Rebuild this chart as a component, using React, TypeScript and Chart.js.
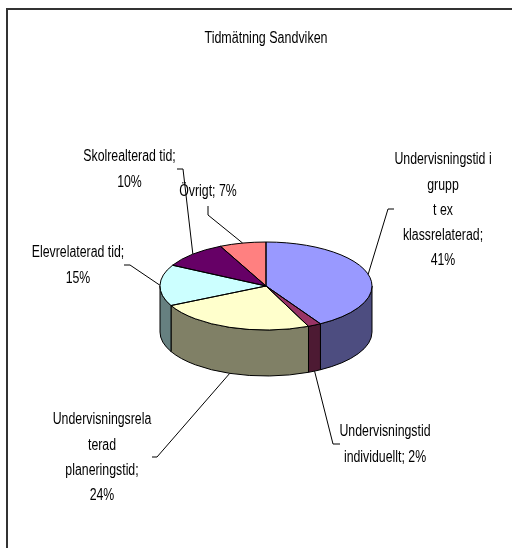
import React, { useEffect, useRef } from "react";
import { Chart, registerables } from "chart.js";

Chart.register(...registerables);

const titleText = "Tidmätning Sandviken";
const categories = [
  "Undervisningstid i grupp t ex klassrelaterad",
  "Undervisningstid individuellt",
  "Undervisningsrelaterad planeringstid",
  "Elevrelaterad tid",
  "Skolrealterad tid",
  "Övrigt",
];
const percentages = [41, 2, 24, 15, 10, 7];
const topColors = ["#9999FF", "#993366", "#FFFFCC", "#CCFFFF", "#660066", "#FF8080"];
const sideColors = ["#4D4D80", "#4D1A33", "#808066", "#668080", "#330033", "#804040"];
const labelLines = [
  ["Undervisningstid i", "grupp", "t ex", "klassrelaterad;", "41%"],
  ["Undervisningstid", "individuellt; 2%"],
  ["Undervisningsrela", "terad", "planeringstid;", "24%"],
  ["Elevrelaterad tid;", "15%"],
  ["Skolrealterad tid;", "10%"],
  ["Övrigt; 7%"],
];

const FONT_FAMILY = "'Liberation Sans', sans-serif";
const FONT = `16px ${FONT_FAMILY}`;
const SQUEEZE = 0.77;
const TITLE_SQUEEZE = 0.78;
const TILT = 44 / 106;
const DEPTH = 46;
const LINE_HEIGHT = 25.2;
const labelAnchors = [
  [443, 160], [385, 432], [102, 420], [78, 253], [129.5, 157], [208, 192],
];
const leaderElbows = [
  [[388, 209], [394, 209]],
  [[333, 444], [340, 444]],
  [[157, 457], [152, 457]],
  [[130, 265], [124, 265]],
  [[183, 169], [177, 169]],
  [[208, 215], [208, 206]],
];

const pie3d = {
  id: "pie3d",
  afterLayout(chart: any) {
    const block = chart.titleBlock;
    if (!block || block.__squeezed) return;
    const original = block.draw.bind(block);
    block.__squeezed = true;
    block.draw = function () {
      const c = chart.ctx;
      const cx = (chart.chartArea.left + chart.chartArea.right) / 2;
      c.save();
      c.translate(cx, 0);
      c.scale(TITLE_SQUEEZE, 1);
      c.translate(-cx, 0);
      original();
      c.restore();
    };
  },
  beforeDraw(chart: any) {
    const { ctx, width, height } = chart;
    ctx.save();
    ctx.fillStyle = "#FFFFFF";
    ctx.fillRect(0, 0, width, height);
    ctx.strokeStyle = "#333333";
    ctx.lineWidth = 2;
    ctx.beginPath();
    ctx.moveTo(7, height);
    ctx.lineTo(7, 9);
    ctx.lineTo(width, 9);
    ctx.stroke();
    ctx.restore();
  },
  beforeDatasetDraw(chart: any) {
    const { ctx } = chart;
    const arcs = chart.getDatasetMeta(0).data;
    ctx.save();
    ctx.lineWidth = 1;
    ctx.strokeStyle = "#000000";
    arcs.forEach((arc: any, i: number) => {
      const { x, y, startAngle, endAngle, outerRadius } = arc.getProps(
        ["x", "y", "startAngle", "endAngle", "outerRadius"], true,
      );
      const a = Math.max(startAngle, 0);
      const b = Math.min(endAngle, Math.PI);
      if (b <= a) return;
      const ry = outerRadius * TILT;
      ctx.beginPath();
      ctx.ellipse(x, y, outerRadius, ry, 0, a, b);
      ctx.ellipse(x, y + DEPTH, outerRadius, ry, 0, b, a, true);
      ctx.closePath();
      ctx.fillStyle = sideColors[i];
      ctx.fill();
      ctx.stroke();
    });
    ctx.restore();
    const first = arcs[0].getProps(["x", "y"], true);
    ctx.save();
    ctx.translate(first.x, first.y);
    ctx.scale(1, TILT);
    ctx.translate(-first.x, -first.y);
  },
  afterDatasetDraw(chart: any) {
    const { ctx } = chart;
    ctx.restore();
    const arcs = chart.getDatasetMeta(0).data;
    ctx.save();
    ctx.lineWidth = 1;
    ctx.strokeStyle = "#000000";
    arcs.forEach((arc: any, i: number) => {
      const { x, y, startAngle, endAngle, outerRadius } = arc.getProps(
        ["x", "y", "startAngle", "endAngle", "outerRadius"], true,
      );
      const ry = outerRadius * TILT;
      ctx.beginPath();
      ctx.moveTo(x, y);
      ctx.ellipse(x, y, outerRadius, ry, 0, startAngle, endAngle);
      ctx.closePath();
      ctx.stroke();

      const mid = (startAngle + endAngle) / 2;
      const sx = x + outerRadius * Math.cos(mid);
      const sy = y + ry * Math.sin(mid) + (Math.sin(mid) > 0.5 ? DEPTH : 0);
      const [p, q] = leaderElbows[i];
      ctx.beginPath();
      ctx.moveTo(sx, sy);
      ctx.lineTo(p[0], p[1]);
      ctx.lineTo(q[0], q[1]);
      ctx.stroke();

      ctx.fillStyle = "#000000";
      ctx.font = FONT;
      ctx.textAlign = "center";
      ctx.textBaseline = "middle";
      labelLines[i].forEach((line, k) => {
        ctx.save();
        ctx.translate(labelAnchors[i][0], labelAnchors[i][1] + k * LINE_HEIGHT);
        ctx.scale(SQUEEZE, 1);
        ctx.fillText(line, 0, 0);
        ctx.restore();
      });
    });
    ctx.restore();
  },
};

export default function App() {
  const ref = useRef<HTMLCanvasElement | null>(null);
  useEffect(() => {
    document.body.style.margin = "0";
    const chart = new Chart(ref.current as HTMLCanvasElement, {
      type: "pie",
      data: {
        labels: categories,
        datasets: [{ data: percentages, backgroundColor: topColors, borderWidth: 0 }],
      },
      options: {
        responsive: false,
        animation: false,
        layout: { padding: { left: 160, right: 140, top: 29, bottom: 156 } },
        plugins: {
          legend: { display: false },
          tooltip: { enabled: false },
          title: {
            display: true,
            text: titleText,
            color: "#000000",
            font: { family: FONT_FAMILY, size: 16, weight: "normal" },
            padding: { top: 0, bottom: 131.8 },
          },
        },
      },
      plugins: [pie3d],
    } as any);
    return () => chart.destroy();
  }, []);
  return <canvas ref={ref} width={512} height={548} style={{ display: "block" }} />;
}
